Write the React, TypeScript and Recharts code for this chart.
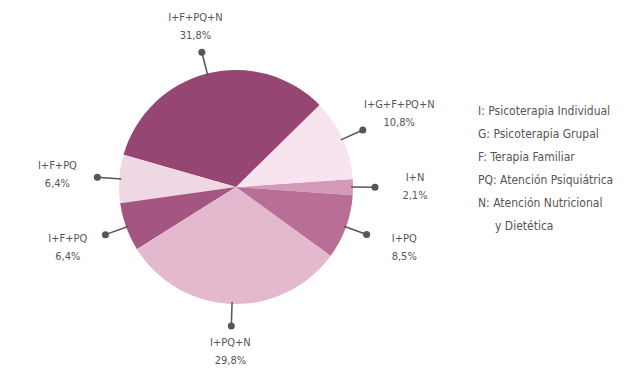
import { PieChart, Pie, Cell, Legend } from 'recharts';

const groups = ['I+N', 'I+G+F+PQ+N', 'I+F+PQ+N', 'I+F+PQ', 'I+F+PQ', 'I+PQ+N', 'I+PQ'];
const shares = [2.1, 10.8, 31.8, 6.4, 6.4, 29.8, 8.5];
const colors = ['#d49ab8', '#f8e4ee', '#964673', '#f0d7e4', '#a55582', '#e4b9cd', '#b96e96'];

const legendLines = [
  'I: Psicoterapia Individual',
  'G: Psicoterapia Grupal',
  'F: Terapia Familiar',
  'PQ: Atención Psiquiátrica',
  'N: Atención Nutricional',
  'y Dietética',
];

const data = groups.map((name, i) => ({ name, value: shares[i] }));

const FONT = '"Liberation Sans Narrow", "DejaVu Sans Condensed", sans-serif';
const INK = '#5b5355';
const RADIAN = Math.PI / 180;

// leader line with a dot, then the two-line label past it
function renderLabel(props: any) {
  const { cx, cy, midAngle, outerRadius, index, value } = props;
  const cos = Math.cos(-midAngle * RADIAN);
  const sin = Math.sin(-midAngle * RADIAN);
  const sx = cx + (outerRadius - 2) * cos;
  const sy = cy + (outerRadius - 2) * sin;
  const mx = cx + (outerRadius + 22) * cos;
  const my = cy + (outerRadius + 22) * sin;
  const far = Math.abs(cos) > 0.6 ? 62 : 48;
  const tx = cx + (outerRadius + far) * cos;
  const ty = cy + (outerRadius + far) * sin;
  return (
    <g key={`lbl-${index}`}>
      <line x1={sx} y1={sy} x2={mx} y2={my} stroke={INK} strokeWidth={1.5} />
      <circle cx={mx} cy={my} r={3.5} fill={INK} />
      <text x={tx} y={ty - 6} textAnchor="middle" fill={INK} fontSize={11} fontFamily={FONT}>
        {groups[index]}
      </text>
      <text x={tx} y={ty + 12} textAnchor="middle" fill={INK} fontSize={11} fontFamily={FONT}>
        {`${String(value).replace('.', ',')}%`}
      </text>
    </g>
  );
}

function LegendBox() {
  return (
    <div style={{ fontFamily: FONT, fontSize: 12, color: INK, lineHeight: '23px' }}>
      {legendLines.map((t, i) => (
        <div key={i} style={{ paddingLeft: i === legendLines.length - 1 ? 17 : 0 }}>
          {t}
        </div>
      ))}
    </div>
  );
}

export default function App() {
  return (
    <div style={{ position: 'absolute', left: 0, top: 0, width: 635, height: 373, background: '#fff' }}>
      <PieChart width={635} height={373}>
        <Pie
          data={data}
          dataKey="value"
          nameKey="name"
          cx={231}
          cy={182}
          outerRadius={117}
          startAngle={-4}
          endAngle={356}
          stroke="none"
          label={renderLabel}
          labelLine={false}
          isAnimationActive={false}
        >
          {data.map((d, i) => (
            <Cell key={i} fill={colors[i]} />
          ))}
        </Pie>
        <Legend
          content={<LegendBox />}
          wrapperStyle={{ left: 478, top: 100, width: 160 }}
        />
      </PieChart>
    </div>
  );
}
